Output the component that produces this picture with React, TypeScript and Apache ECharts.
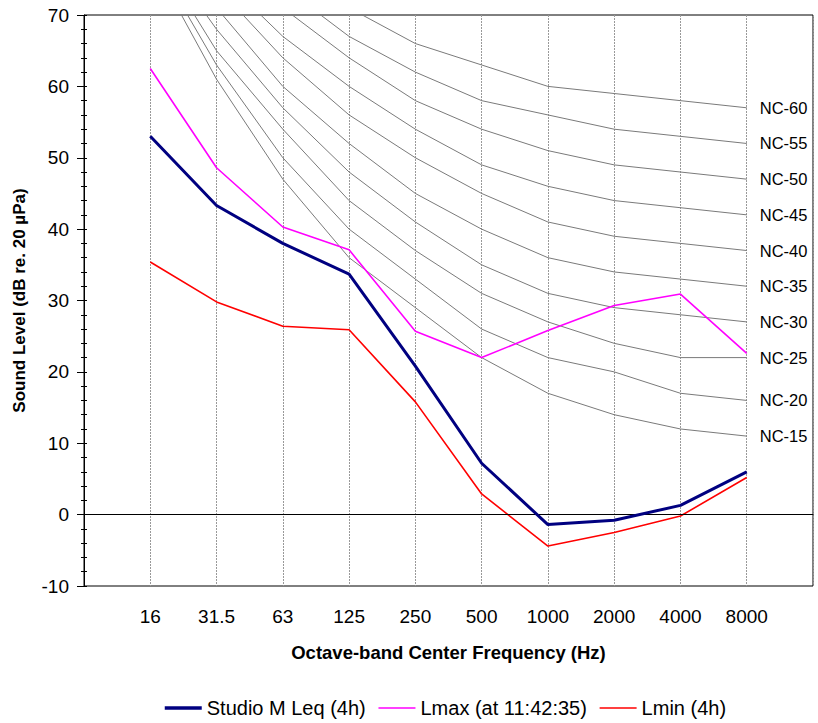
import React, { useEffect, useRef } from "react";
import * as echarts from "echarts";

const categories = ["", "16", "31.5", "63", "125", "250", "500", "1000", "2000", "4000", "8000", ""];

const leqValues = [53.0, 43.3, 38.0, 33.7, 20.8, 7.2, -1.4, -0.8, 1.3, 6.0];
const lmaxValues = [62.5, 48.6, 40.3, 37.1, 25.7, 22.0, 25.8, 29.3, 30.9, 22.6];
const lminValues = [35.4, 29.8, 26.4, 25.9, 15.8, 2.9, -4.4, -2.5, -0.2, 5.2];

const nc15 = [78, 61, 47, 36, 29, 22, 17, 14, 12, 11];
const nc20 = [79, 63, 50, 40, 33, 26, 22, 20, 17, 16];
const nc25 = [80, 65, 54, 44, 37, 31, 27, 24, 22, 22];
const nc30 = [81, 68, 57, 48, 41, 35, 31, 29, 28, 27];
const nc35 = [82, 71, 60, 52, 45, 40, 36, 34, 33, 32];
const nc40 = [84, 74, 64, 56, 50, 45, 41, 39, 38, 37];
const nc45 = [85, 76, 67, 60, 54, 49, 46, 44, 43, 42];
const nc50 = [87, 79, 71, 64, 58, 54, 51, 49, 48, 47];
const nc55 = [89, 82, 74, 67, 62, 58, 56, 54, 53, 52];
const nc60 = [90, 85, 77, 71, 66, 63, 60, 59, 58, 57];

const ncNames = ["NC-15", "NC-20", "NC-25", "NC-30", "NC-35", "NC-40", "NC-45", "NC-50", "NC-55", "NC-60"];
const ncSets = [nc15, nc20, nc25, nc30, nc35, nc40, nc45, nc50, nc55, nc60];

const seriesNames = ["Studio M Leq (4h)", "Lmax (at 11:42:35)", "Lmin (4h)"];

const yMin = -10;
const yMax = 70;
const yInterval = 10;

const FONT = "'Liberation Sans', Arial, sans-serif";

export default function App() {
  const ref = useRef<HTMLDivElement>(null);

  useEffect(() => {
    if (!ref.current) return;
    const chart = echarts.init(ref.current, undefined, { renderer: "svg" });

    const pad = (arr: number[]) => [null, ...arr];

    const ncSeries = ncSets.map((vals, i) => ({
      name: ncNames[i],
      type: "line",
      data: pad(vals),
      symbol: "none",
      silent: true,
      lineStyle: { color: "#7a7a7a", width: 1 },
      z: 2,
      endLabel: {
        show: true,
        formatter: "{a}",
        color: "#000",
        fontSize: 16.5,
        fontFamily: FONT,
        distance: 13,
      },
    }));

    const option: any = {
      animation: false,
      backgroundColor: "#fff",
      textStyle: { fontFamily: FONT, color: "#000" },
      grid: {
        left: 84,
        right: 5,
        top: 15,
        bottom: 137,
        show: true,
        borderColor: "#000",
        borderWidth: 1,
        backgroundColor: "transparent",
      },
      legend: {
        data: [
          { name: seriesNames[0], lineStyle: { width: 3.5 }, itemStyle: { opacity: 0 } },
          { name: seriesNames[1], lineStyle: { width: 1.5 }, itemStyle: { opacity: 0 } },
          { name: seriesNames[2], lineStyle: { width: 1.5 }, itemStyle: { opacity: 0 } },
        ],
        left: 158,
        top: 693,
        itemWidth: 37,
        itemHeight: 14,
        itemGap: 12,
        textStyle: { fontSize: 20, color: "#000", fontFamily: FONT },
      },
      xAxis: {
        type: "category",
        data: categories,
        boundaryGap: false,
        axisLine: { show: true, lineStyle: { color: "#000", width: 1 } },
        axisTick: { show: false },
        axisLabel: {
          interval: 0,
          color: "#000",
          fontSize: 19,
          fontFamily: FONT,
          margin: 21,
        },
        splitLine: {
          show: true,
          interval: 0,
          lineStyle: { color: "#999", width: 1, type: [2, 1] },
        },
        name: "Octave-band Center Frequency (Hz)",
        nameLocation: "middle",
        nameGap: 57,
        nameTextStyle: { fontSize: 18.5, fontWeight: "bold", color: "#000", fontFamily: FONT },
      },
      yAxis: [
        {
          type: "value",
          min: yMin,
          max: yMax,
          interval: yInterval,
          axisLine: { show: true, lineStyle: { color: "#000", width: 1 } },
          axisTick: { show: true, length: 7, lineStyle: { color: "#000" } },
          minorTick: { show: true, splitNumber: 5, length: 3, lineStyle: { color: "#000" } },
          axisLabel: { color: "#000", fontSize: 19, fontFamily: FONT, margin: 15 },
          splitLine: { show: false },
          name: "Sound Level (dB re. 20 µPa)",
          nameLocation: "middle",
          nameGap: 56,
          nameTextStyle: { fontSize: 17, fontWeight: "bold", color: "#000", fontFamily: FONT },
        },
        {
          type: "value",
          position: "left",
          min: yMin,
          max: yMax,
          interval: yInterval,
          axisLine: { show: false },
          axisTick: { show: true, inside: true, length: 3, lineStyle: { color: "#000" } },
          minorTick: { show: true, splitNumber: 5, length: 3, lineStyle: { color: "#000" } },
          axisLabel: { show: false },
          splitLine: { show: false },
        },
      ],
      series: [
        ...ncSeries,
        {
          name: seriesNames[2],
          type: "line",
          data: pad(lminValues),
          symbol: "none",
          lineStyle: { color: "#ff0000", width: 1.6 },
          itemStyle: { color: "#ff0000" },
          z: 3,
        },
        {
          name: seriesNames[1],
          type: "line",
          data: pad(lmaxValues),
          symbol: "none",
          lineStyle: { color: "#ff00ff", width: 1.6 },
          itemStyle: { color: "#ff00ff" },
          z: 4,
        },
        {
          name: seriesNames[0],
          type: "line",
          data: pad(leqValues),
          symbol: "none",
          lineStyle: { color: "#000080", width: 3 },
          itemStyle: { color: "#000080" },
          z: 5,
          markLine: {
            silent: true,
            symbol: "none",
            label: { show: false },
            lineStyle: { color: "#000", width: 1, type: "solid" },
            data: [{ yAxis: 0 }],
          },
        },
      ],
    };

    chart.setOption(option);
    return () => chart.dispose();
  }, []);

  return (
    <div
      ref={ref}
      style={{ position: "absolute", left: 0, top: 0, width: 818, height: 723 }}
    />
  );
}
